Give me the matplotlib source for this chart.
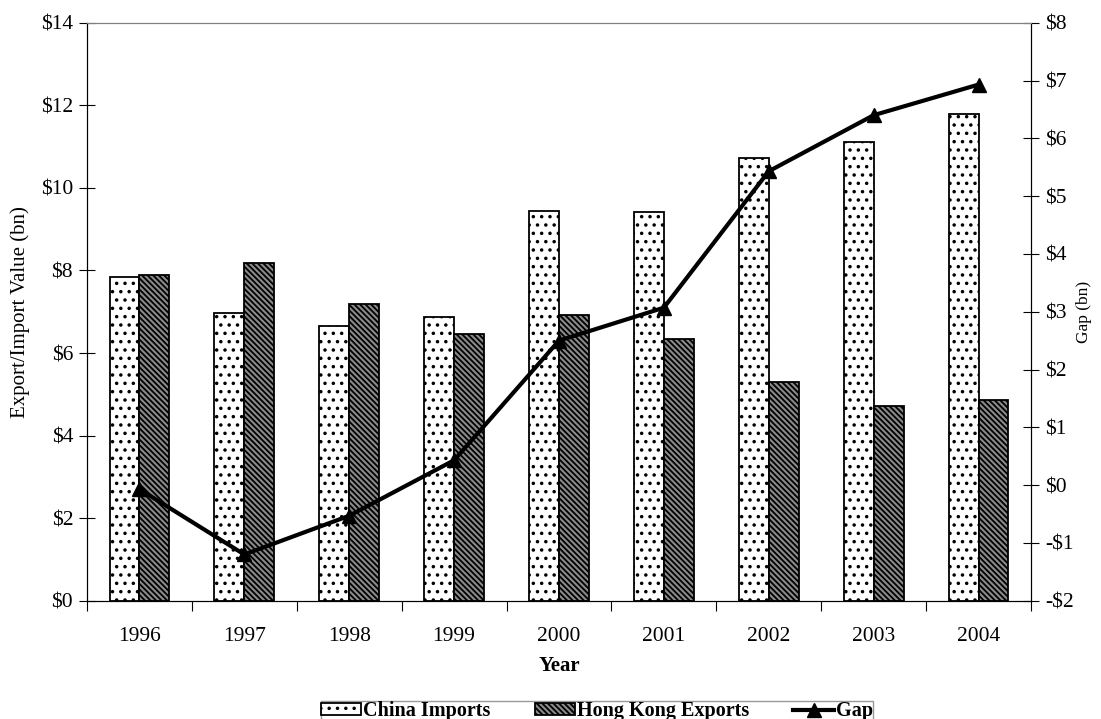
import numpy as np
import matplotlib.pyplot as plt
from matplotlib.ticker import FixedLocator, NullFormatter

plt.rcParams['font.family'] = ['Liberation Serif', 'DejaVu Serif']
plt.rcParams['hatch.linewidth'] = 1.3

years = ['1996', '1997', '1998', '1999', '2000', '2001', '2002', '2003', '2004']
china_imports = [7.83, 6.98, 6.65, 6.88, 9.43, 9.42, 10.73, 11.12, 11.80]
hk_exports = [7.90, 8.18, 7.18, 6.45, 6.93, 6.35, 5.30, 4.72, 4.87]
gap = [-0.07, -1.20, -0.53, 0.43, 2.50, 3.07, 5.43, 6.40, 6.93]

fig = plt.figure(figsize=(11.01, 7.19), dpi=100)
ax = fig.add_axes([0.079, 0.1645, 0.8574, 0.8039])

x = np.arange(len(years))
w = 0.285
ax.bar(x - w / 2, china_imports, w, facecolor='white', edgecolor='black',
       hatch='..', linewidth=1.3, label='China Imports')
ax.bar(x + w / 2, hk_exports, w, facecolor='#8a8a8a', edgecolor='black',
       hatch='\\\\\\\\\\\\', linewidth=1.3, label='Hong Kong Exports')

ax.set_xlim(-0.5, len(years) - 0.5)
ax.set_ylim(0, 14)
ax.set_yticks(np.arange(0, 15, 2))
ax.set_yticklabels(['$%d' % v for v in range(0, 15, 2)])
ax.set_xticks(x)
ax.set_xticklabels(years)
ax.xaxis.set_minor_locator(FixedLocator(np.arange(-0.5, len(years), 1)))
ax.xaxis.set_minor_formatter(NullFormatter())
ax.tick_params(axis='x', which='major', length=0, pad=19, labelsize=15.5)
ax.tick_params(axis='x', which='minor', length=7, direction='out', width=0.8)
ax.tick_params(axis='y', direction='inout', length=12, width=0.8, labelsize=15.5, pad=4)
ax.set_ylabel('Export/Import Value (bn)', fontsize=15, labelpad=8)
ax.set_xlabel('Year', fontsize=15, fontweight='bold', labelpad=7)
ax.spines['top'].set_color('#808080')

ax2 = ax.twinx()
ax2.plot(x, gap, color='black', linewidth=3, marker='^', markersize=10, label='Gap')
ax2.set_ylim(-2, 8)
ax2.set_yticks(np.arange(-2, 9, 1))
ax2.set_yticklabels([('-$%d' % -v) if v < 0 else ('$%d' % v) for v in range(-2, 9)])
ax2.tick_params(axis='y', direction='inout', length=12, width=0.8, labelsize=15.5, pad=4)
ax2.set_ylabel('Gap (bn)', fontsize=12.5, labelpad=2)
ax2.spines['top'].set_color('#808080')

h1, l1 = ax.get_legend_handles_labels()
h2, l2 = ax2.get_legend_handles_labels()
leg = fig.legend(h1 + h2, l1 + l2, loc='upper center', bbox_to_anchor=(0.542, 0.039),
                 ncol=3, frameon=True, fancybox=False, edgecolor='#808080',
                 prop={'weight': 'bold', 'size': 14.5}, handlelength=2.0,
                 handleheight=0.5, handletextpad=0.1, columnspacing=2.2,
                 borderpad=0.0)
leg.get_frame().set_linewidth(1.0)

fig.savefig('out.png', dpi=100)
